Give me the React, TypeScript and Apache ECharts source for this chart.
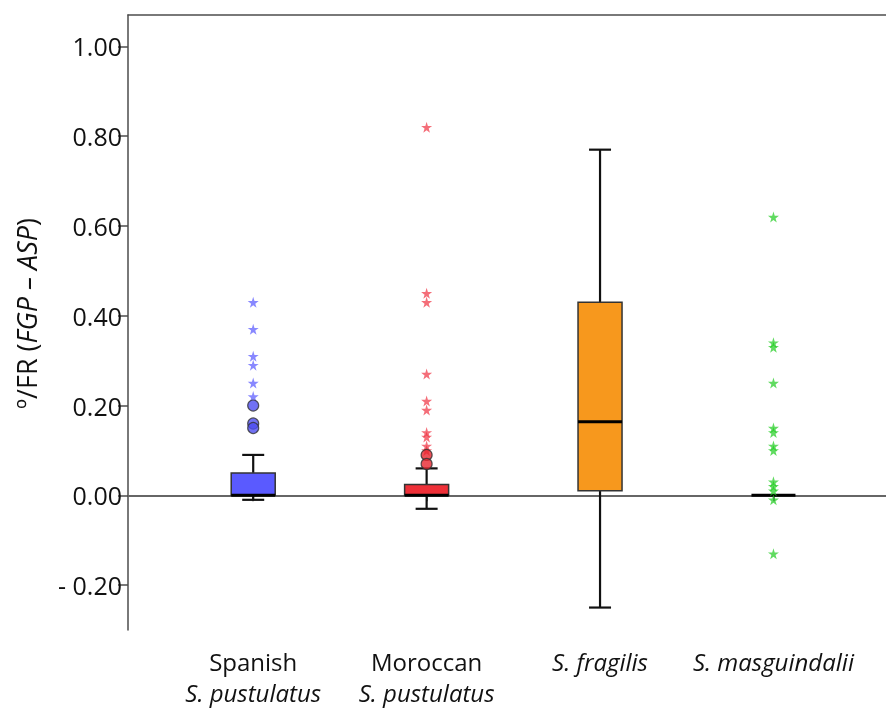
import React, { useEffect, useRef } from "react";
import * as echarts from "echarts";

// Category positions (x) and labels
const categoryPositions = [1, 2, 3, 4];
const categoryLine1 = ["Spanish", "Moroccan", "S. fragilis", "S. masguindalii"];
const categoryLine2 = ["S. pustulatus", "S. pustulatus", "", ""];
const categoryItalicFirst = [false, false, true, true];

// Box stats: [x, min, q1, median, q3, max]
const boxStats = [
  [1, -0.01, 0.0, 0.0, 0.05, 0.09],
  [2, -0.03, 0.0, 0.0, 0.024, 0.06],
  [3, -0.25, 0.01, 0.164, 0.43, 0.77],
  [4, 0.0, 0.0, 0.0, 0.0, 0.0],
];
const boxColors = ["#5a5aff", "#ee3038", "#f7981d", "#000000"];

// Outliers (circles) and extremes (stars)
const spanishCircles = [0.2, 0.16, 0.15];
const spanishStars = [0.43, 0.37, 0.31, 0.29, 0.25, 0.22];
const moroccanCircles = [0.09, 0.07];
const moroccanStars = [0.82, 0.45, 0.43, 0.27, 0.21, 0.19, 0.14, 0.13, 0.11, 0.1];
const masguindaliiStars = [0.62, 0.34, 0.33, 0.25, 0.15, 0.14, 0.11, 0.1, 0.03, 0.02, 0.01, -0.01, -0.13];

const yTicks = [-0.2, 0, 0.2, 0.4, 0.6, 0.8, 1.0];

const STAR = "path://M50,0 L61,35 L98,35 L68,57 L79,91 L50,70 L21,91 L32,57 L2,35 L39,35 Z";
const FONT = "'Open Sans', Lato, sans-serif";

export default function App() {
  const ref = useRef<HTMLDivElement>(null);
  useEffect(() => {
    if (!ref.current) return;
    const chart = echarts.init(ref.current, undefined, { renderer: "svg" });
    const xMin = 0.278;
    const xMax = 4.649;

    const starSeries = (x: number, vals: number[], color: string) => ({
      type: "scatter",
      data: vals.map((v) => [x, v]),
      symbol: STAR,
      symbolSize: 11,
      itemStyle: { color, opacity: 0.7 },
      z: 4,
      silent: true,
    });
    const circleSeries = (x: number, vals: number[], color: string) => ({
      type: "scatter",
      data: vals.map((v) => [x, v]),
      symbol: "circle",
      symbolSize: 11,
      itemStyle: { color, borderColor: "#333", borderWidth: 1.2 },
      z: 5,
      silent: true,
    });

    const option: any = {
      animation: false,
      grid: { left: 128, right: 0, top: 15, bottom: 79, containLabel: false },
      xAxis: [
        {
          type: "value",
          min: xMin,
          max: xMax,
          position: "bottom",
          splitLine: { show: false },
          axisLine: { show: true, lineStyle: { color: "#4d4d4d", width: 1.5 } },
          axisTick: { show: true, customValues: categoryPositions, length: 6, lineStyle: { color: "#4d4d4d", width: 1.5 } },
          axisLabel: {
            customValues: categoryPositions,
            margin: 16,
            formatter: (v: number) => {
              const i = Math.round(v) - 1;
              if (i < 0 || i > 3) return "";
              const first = categoryItalicFirst[i] ? `{i|${categoryLine1[i]}}` : `{n|${categoryLine1[i]}}`;
              return categoryLine2[i] ? `${first}\n{i|${categoryLine2[i]}}` : first;
            },
            rich: {
              n: { fontSize: 24, fontFamily: FONT, color: "#111", lineHeight: 31 },
              i: { fontSize: 24, fontFamily: FONT, fontStyle: "italic", color: "#111", lineHeight: 31 },
            },
          },
        },
        {
          type: "value",
          min: xMin,
          max: xMax,
          position: "top",
          splitLine: { show: false },
          axisLine: { show: true, lineStyle: { color: "#4d4d4d", width: 1.5 } },
          axisTick: { show: false },
          axisLabel: { show: false },
        },
      ],
      yAxis: {
        type: "value",
        min: -0.3,
        max: 1.07,
        splitLine: { show: false },
        axisLine: { show: true, lineStyle: { color: "#4d4d4d", width: 1.5 } },
        axisTick: { show: true, customValues: yTicks, length: 10, lineStyle: { color: "#4d4d4d", width: 1.5 } },
        axisLabel: {
          customValues: yTicks,
          margin: 6,
          fontSize: 25,
          fontFamily: FONT,
          color: "#111",
          formatter: (v: number) => (v < 0 ? "- " + Math.abs(v).toFixed(2) : v.toFixed(2)),
        },
        name: "{n|º/FR (}{i|FGP – ASP}{n|)}",
        nameLocation: "middle",
        nameGap: 88,
        nameRotate: 90,
        nameTextStyle: {
          padding: [0, 0, 0, 18],
          rich: {
            n: { fontSize: 27, fontFamily: FONT, color: "#111" },
            i: { fontSize: 27, fontFamily: FONT, fontStyle: "italic", color: "#111" },
          },
        },
      },
      series: [
        {
          type: "line",
          data: [],
          z: 1,
          silent: true,
          markLine: {
            silent: true,
            z: 1,
            symbol: "none",
            label: { show: false },
            lineStyle: { color: "#666", width: 2, type: "solid" },
            data: [{ yAxis: 0 }],
          },
        },
        {
          type: "custom",
          z: 3,
          silent: true,
          data: boxStats.map((b, i) => [...b, i]),
          renderItem: (params: any, api: any) => {
            const x = api.value(0);
            const mn = api.value(1);
            const q1 = api.value(2);
            const med = api.value(3);
            const q3 = api.value(4);
            const mx = api.value(5);
            const idx = api.value(6);
            const halfBox = 22;
            const halfCap = 11;
            const pMin = api.coord([x, mn]);
            const pQ1 = api.coord([x, q1]);
            const pMed = api.coord([x, med]);
            const pQ3 = api.coord([x, q3]);
            const pMax = api.coord([x, mx]);
            const cx = pMed[0];
            const line = { stroke: "#111", lineWidth: 2.2 };
            const children: any[] = [];
            if (mx !== q3) {
              children.push({ type: "line", shape: { x1: cx, y1: pMax[1], x2: cx, y2: pQ3[1] }, style: line });
              children.push({ type: "line", shape: { x1: cx - halfCap, y1: pMax[1], x2: cx + halfCap, y2: pMax[1] }, style: line });
            }
            if (mn !== q1) {
              children.push({ type: "line", shape: { x1: cx, y1: pMin[1], x2: cx, y2: pQ1[1] }, style: line });
              children.push({ type: "line", shape: { x1: cx - halfCap, y1: pMin[1], x2: cx + halfCap, y2: pMin[1] }, style: line });
            }
            if (q3 !== q1) {
              children.push({
                type: "rect",
                shape: { x: cx - halfBox, y: pQ3[1], width: halfBox * 2, height: pQ1[1] - pQ3[1] },
                style: { fill: boxColors[idx], stroke: "#333", lineWidth: 1.5 },
              });
            }
            children.push({
              type: "line",
              shape: { x1: cx - halfBox, y1: pMed[1], x2: cx + halfBox, y2: pMed[1] },
              style: { stroke: "#000", lineWidth: 3 },
            });
            return { type: "group", children };
          },
        },
        starSeries(1, spanishStars, "#5555ff"),
        circleSeries(1, spanishCircles, "#4d4df0"),
        starSeries(2, moroccanStars, "#f03040"),
        circleSeries(2, moroccanCircles, "#e8262e"),
        starSeries(4, masguindaliiStars, "#1ccc1c"),
      ],
    };
    chart.setOption(option);
    return () => chart.dispose();
  }, []);
  return <div ref={ref} style={{ position: "fixed", left: 0, top: 0, width: 886, height: 709 }} />;
}
